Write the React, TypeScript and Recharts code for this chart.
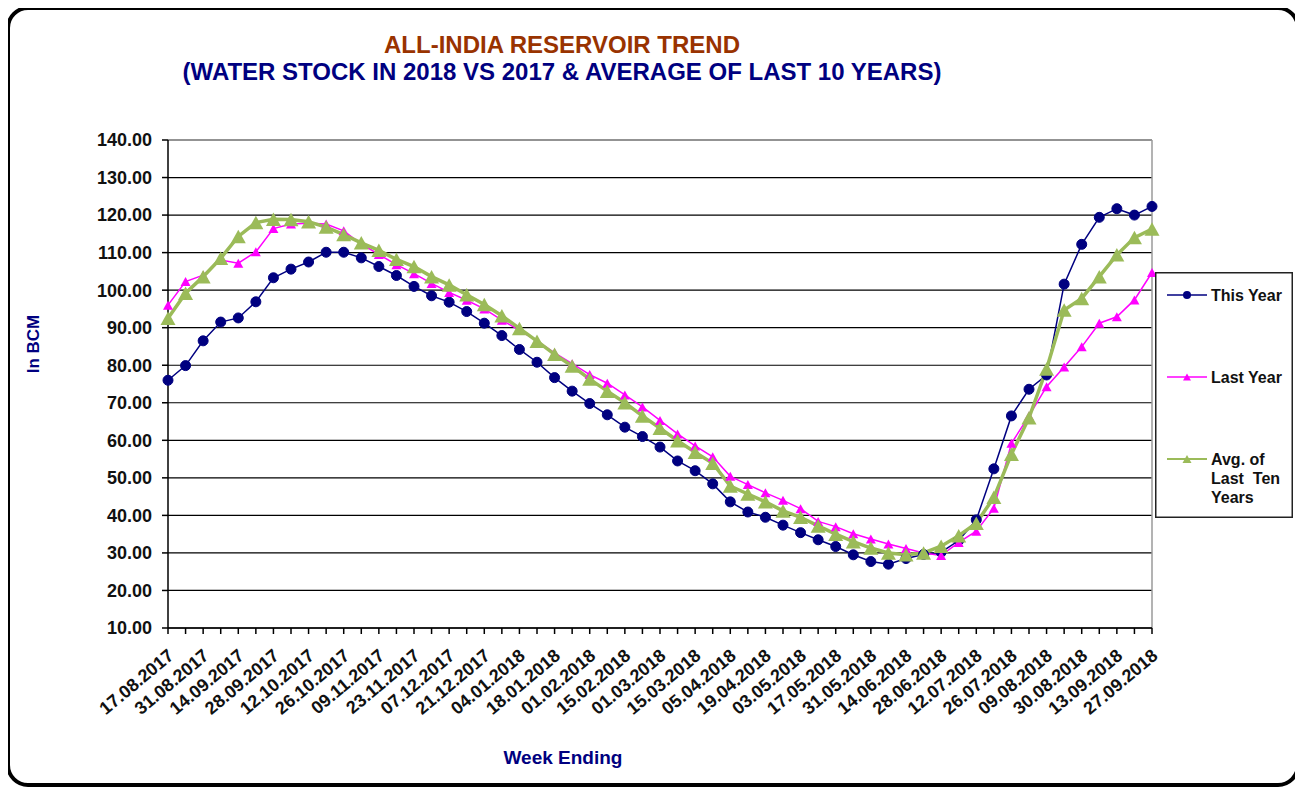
import React from "react";
import {
  LineChart,
  Line,
  XAxis,
  YAxis,
  CartesianGrid,
  Legend,
  ReferenceLine,
} from "recharts";

const weeks = [
  "17.08.2017", "24.08.2017", "31.08.2017", "07.09.2017", "14.09.2017", "21.09.2017",
  "28.09.2017", "05.10.2017", "12.10.2017", "19.10.2017", "26.10.2017", "02.11.2017",
  "09.11.2017", "16.11.2017", "23.11.2017", "30.11.2017", "07.12.2017", "14.12.2017",
  "21.12.2017", "28.12.2017", "04.01.2018", "11.01.2018", "18.01.2018", "25.01.2018",
  "01.02.2018", "08.02.2018", "15.02.2018", "22.02.2018", "01.03.2018", "08.03.2018",
  "15.03.2018", "29.03.2018", "05.04.2018", "12.04.2018", "19.04.2018", "26.04.2018",
  "03.05.2018", "10.05.2018", "17.05.2018", "24.05.2018", "31.05.2018", "07.06.2018",
  "14.06.2018", "21.06.2018", "28.06.2018", "05.07.2018", "12.07.2018", "19.07.2018",
  "26.07.2018", "02.08.2018", "09.08.2018", "23.08.2018", "30.08.2018", "06.09.2018",
  "13.09.2018", "20.09.2018", "27.09.2018",
];

const thisYear = [
  76.0, 79.9, 86.5, 91.5, 92.6, 96.9, 103.3, 105.6, 107.5, 110.1, 110.1, 108.6,
  106.3, 103.9, 101.0, 98.5, 96.8, 94.3, 91.2, 87.9, 84.2, 80.8, 76.7, 73.1,
  69.8, 66.8, 63.5, 61.0, 58.2, 54.5, 51.9, 48.4, 43.6, 40.9, 39.5, 37.4,
  35.4, 33.5, 31.7, 29.5, 27.7, 27.0, 28.5, 29.6, 30.2, 33.3, 38.8, 52.4,
  66.5, 73.6, 77.4, 101.6, 112.2, 119.4, 121.7, 120.0, 122.3,
];

const lastYear = [
  96.0, 102.3, 104.0, 108.0, 107.2, 110.2, 116.4, 117.6, 117.8, 117.6, 115.8, 112.3,
  109.5, 106.8, 104.4, 101.8, 99.4, 97.3, 95.0, 92.0, 89.3, 86.5, 83.3, 80.4,
  77.5, 75.2, 72.1, 68.9, 65.3, 61.7, 58.5, 55.6, 50.4, 48.2, 46.0, 44.0,
  41.8, 38.4, 37.0, 35.1, 33.7, 32.4, 31.2, 30.0, 29.3, 32.8, 35.8, 41.9,
  59.2, 66.5, 74.3, 79.5, 84.9, 91.2, 92.9, 97.4, 104.7,
];

const avgTenYears = [
  92.5, 99.2, 103.6, 108.5, 114.3, 118.0, 118.9, 118.8, 118.2, 116.8, 114.8, 112.6,
  110.6, 108.2, 106.3, 103.6, 101.4, 98.8, 96.2, 93.2, 89.8, 86.4, 82.9, 79.8,
  76.3, 73.1, 70.0, 66.5, 63.2, 59.9, 56.8, 53.9, 47.8, 45.7, 43.6, 41.2,
  39.5, 37.2, 35.0, 33.0, 31.3, 30.0, 29.5, 30.0, 31.8, 34.6, 37.9, 44.8,
  56.3, 66.0, 79.0, 94.7, 97.8, 103.6, 109.4, 114.0, 116.3,
];

const yTicks = [10, 20, 30, 40, 50, 60, 70, 80, 90, 100, 110, 120, 130, 140];

const data = weeks.map((week, i) => ({
  week,
  thisYear: thisYear[i],
  lastYear: lastYear[i],
  avg: avgTenYears[i],
}));

const FONT = "'Liberation Sans', Arial, sans-serif";
const NAVY = "#000080";
const MAGENTA = "#FF00FF";
const GREEN = "#9BBB59";

function triangle(cx: number, cy: number, size: number) {
  const h = size * 0.9;
  return `M${cx},${cy - h / 2} L${cx + size / 2},${cy + h / 2} L${cx - size / 2},${cy + h / 2} Z`;
}

const circleDot = (props: any) => {
  const { cx, cy, index } = props;
  if (cx == null || cy == null) return <g key={`c-${index}`} />;
  return <circle key={`c-${index}`} cx={cx} cy={cy} r={5} fill={NAVY} stroke={NAVY} />;
};

const smallTriangle = (props: any) => {
  const { cx, cy, index } = props;
  if (cx == null || cy == null) return <g key={`s-${index}`} />;
  return <path key={`s-${index}`} d={triangle(cx, cy, 10)} fill={MAGENTA} />;
};

const bigTriangle = (props: any) => {
  const { cx, cy, index } = props;
  if (cx == null || cy == null) return <g key={`b-${index}`} />;
  return <path key={`b-${index}`} d={triangle(cx, cy, 15)} fill={GREEN} />;
};

const WeekTick = (props: any) => {
  const { x, y, payload, index } = props;
  if (index % 2 !== 0) return <g />;
  const tx = x + 3;
  const ty = y + 17;
  return (
    <text
      x={tx}
      y={ty}
      transform={`rotate(-40, ${tx}, ${ty})`}
      textAnchor="end"
      dominantBaseline="central"
      fontFamily={FONT}
      fontWeight="bold"
      fontSize={18}
      fill="#111"
    >
      {payload.value}
    </text>
  );
};

const legendItems = [
  { label: ["This Year"], color: NAVY, kind: "circle", y: 23 },
  { label: ["Last Year"], color: MAGENTA, kind: "small", y: 105 },
  { label: ["Avg. of", "Last  Ten", "Years"], color: GREEN, kind: "big", y: 187 },
];

const renderLegend = () => (
  <svg width={138} height={246} style={{ display: "block" }}>
    <rect x={0.75} y={0.75} width={136.5} height={244.5} fill="#fff" stroke="#222" strokeWidth={1.5} />
    {legendItems.map((item) => (
      <g key={item.label[0]}>
        <line x1={12} x2={52} y1={item.y} y2={item.y} stroke={item.color} strokeWidth={item.kind === "big" ? 2 : 1.5} />
        {item.kind === "circle" ? (
          <circle cx={32} cy={item.y} r={4} fill={item.color} />
        ) : (
          <path d={triangle(32, item.y, item.kind === "big" ? 9 : 8)} fill={item.color} />
        )}
        {item.label.map((line, j) => (
          <text
            key={line}
            x={56}
            y={item.y + j * 19}
            dominantBaseline="central"
            fontFamily={FONT}
            fontWeight="bold"
            fontSize={16}
            fill="#111"
            style={{ whiteSpace: "pre" }}
          >
            {line}
          </text>
        ))}
      </g>
    ))}
  </svg>
);

export default function App() {
  return (
    <div
      style={{
        position: "relative",
        width: 1286,
        height: 773,
        marginLeft: -2,
        marginTop: -2,
        border: "4px solid #000",
        borderRadius: 22,
        background: "#fff",
        fontFamily: FONT,
      }}
    >
      <div
        style={{
          position: "absolute",
          left: 0,
          top: 21,
          width: 1104,
          textAlign: "center",
          fontWeight: "bold",
          fontSize: 24,
          lineHeight: "27px",
        }}
      >
        <div style={{ color: "#993300" }}>ALL-INDIA RESERVOIR TREND</div>
        <div style={{ color: NAVY }}>(WATER STOCK IN 2018 VS 2017 &amp; AVERAGE OF LAST 10 YEARS)</div>
      </div>
      <LineChart
        width={1286}
        height={773}
        data={data}
        margin={{ top: 130, right: 144, left: 78, bottom: 65 }}
      >
        <CartesianGrid horizontal vertical={false} stroke="#000" strokeWidth={1.2} />
        <ReferenceLine y={140} stroke="#9a9a9a" strokeWidth={1.5} />
        <ReferenceLine x="27.09.2018" stroke="#9a9a9a" strokeWidth={1.5} />
        <XAxis
          dataKey="week"
          interval={0}
          height={90}
          tick={<WeekTick />}
          tickSize={6}
          tickLine={{ stroke: "#000", strokeWidth: 1.5 }}
          axisLine={{ stroke: "#000", strokeWidth: 1.5 }}
          label={{
            content: () => (
              <text
                x={553}
                y={747}
                textAnchor="middle"
                dominantBaseline="central"
                fontFamily={FONT}
                fontWeight="bold"
                fontSize={19}
                fill={NAVY}
              >
                Week Ending
              </text>
            ),
          }}
        />
        <YAxis
          domain={[10, 140]}
          ticks={yTicks}
          width={80}
          tickSize={6}
          tickMargin={10}
          tickFormatter={(v: number) => v.toFixed(2)}
          tick={{ fontFamily: FONT, fontWeight: "bold", fontSize: 18, fill: "#111" }}
          tickLine={{ stroke: "#000", strokeWidth: 1.5 }}
          axisLine={{ stroke: "#000", strokeWidth: 1.5 }}
          label={{
            content: () => (
              <text
                x={23}
                y={334}
                transform="rotate(-90, 23, 334)"
                textAnchor="middle"
                dominantBaseline="central"
                fontFamily={FONT}
                fontWeight="bold"
                fontSize={17}
                fill={NAVY}
              >
                In BCM
              </text>
            ),
          }}
        />
        <Legend
          layout="vertical"
          align="center"
          verticalAlign="middle"
          content={renderLegend}
          wrapperStyle={{ left: 1145, top: 262, width: 138, height: 246 }}
        />
        <Line
          type="linear"
          dataKey="thisYear"
          name="This Year"
          stroke={NAVY}
          strokeWidth={1.5}
          dot={circleDot}
          activeDot={false}
          isAnimationActive={false}
        />
        <Line
          type="linear"
          dataKey="lastYear"
          name="Last Year"
          stroke={MAGENTA}
          strokeWidth={1.5}
          dot={smallTriangle}
          activeDot={false}
          isAnimationActive={false}
        />
        <Line
          type="linear"
          dataKey="avg"
          name="Avg. of Last Ten Years"
          stroke={GREEN}
          strokeWidth={3.5}
          dot={bigTriangle}
          activeDot={false}
          isAnimationActive={false}
        />
      </LineChart>
    </div>
  );
}
